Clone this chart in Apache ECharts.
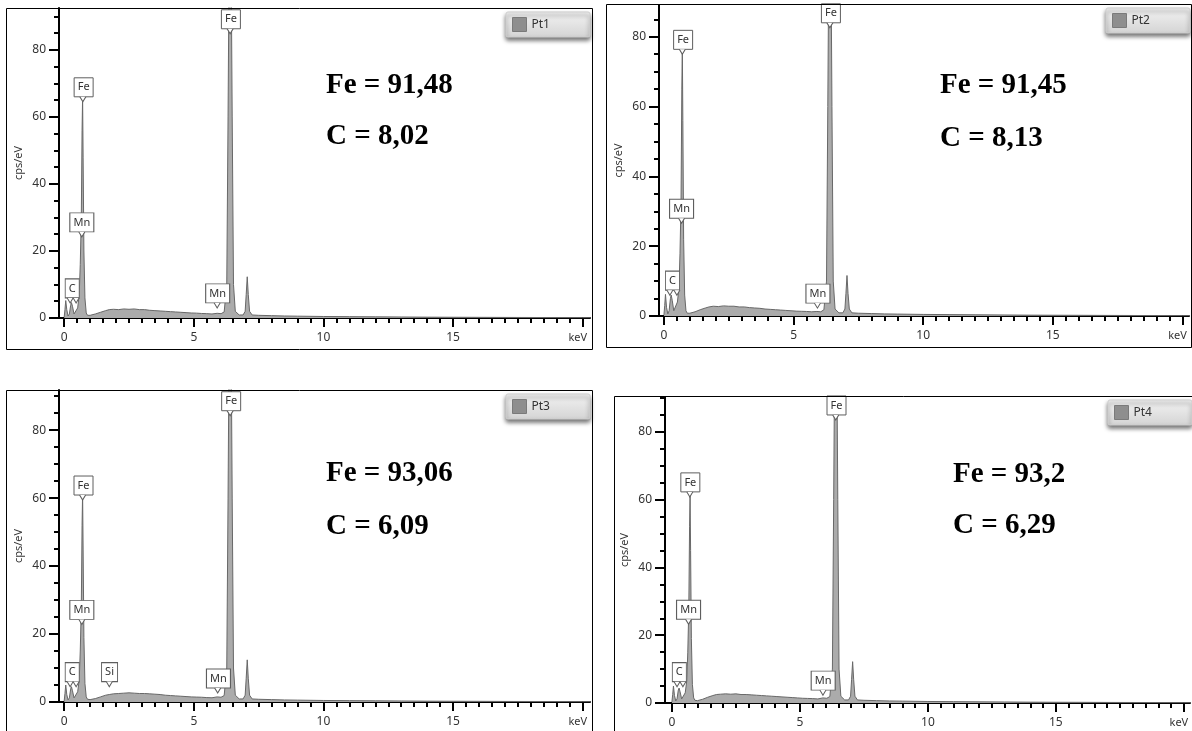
<!DOCTYPE html>
<html><head><meta charset="utf-8">
<script src="https://cdn.jsdelivr.net/npm/echarts@6/dist/echarts.min.js"></script>
<style>html,body{margin:0;padding:0;background:#fff}#c{width:1192px;height:731px}</style>
</head><body><div id="c"></div>
<script>
// ---------- DATA ----------
const energy = [0, 0.03, 0.06, 0.1, 0.15, 0.2, 0.25, 0.28, 0.32, 0.38,
  0.45, 0.52, 0.58, 0.62, 0.66, 0.69, 0.71, 0.73, 0.76, 0.8,
  0.85, 0.9, 1.0, 1.2, 1.4, 1.6, 1.74, 1.9, 2.1, 2.3,
  2.5, 2.7, 2.9, 3.1, 3.3, 3.5, 3.7, 3.9, 4.1, 4.3,
  4.5, 4.7, 4.9, 5.1, 5.3, 5.5, 5.7, 5.9, 6.05, 6.17,
  6.27, 6.32, 6.40, 6.48, 6.53, 6.6, 6.75, 6.9, 6.98, 7.02,
  7.06, 7.10, 7.15, 7.25, 7.5, 8.0, 8.5, 9.0, 10, 11,
  12, 13, 14, 15, 16, 17, 18, 19, 20, 20.3];

const pt1 = [0.3, 2.5, 5.2, 2.5, 0.6, 1.2, 3.8, 4.6, 3.5, 1.2,
  1.5, 3, 7, 16, 30, 56, 66, 48, 20, 6,
  1.5, 0.8, 0.8, 1.2, 1.7, 2.2, 2.5, 2.6, 2.5, 2.7,
  2.6, 2.7, 2.5, 2.5, 2.3, 2.2, 2.1, 2.0, 1.9, 1.8,
  1.7, 1.6, 1.5, 1.45, 1.35, 1.3, 1.2, 1.4, 1.3, 1.8,
  10, 60, 150, 60, 10, 2, 0.9, 0.9, 2, 7,
  12.3, 7, 2, 0.9, 0.8, 0.7, 0.6, 0.55, 0.45, 0.4,
  0.35, 0.3, 0.25, 0.22, 0.2, 0.17, 0.15, 0.12, 0.1, 0.1];

const pt2 = [0.3, 3, 6.2, 2.5, 0.6, 1.5, 5, 6, 4.5, 1.5,
  2, 4, 8, 18, 33, 65, 77, 56, 22, 6,
  1.5, 0.8, 0.8, 1.2, 1.8, 2.3, 2.6, 2.8, 2.7, 2.9,
  2.8, 2.8, 2.6, 2.6, 2.4, 2.3, 2.2, 2.0, 1.9, 1.8,
  1.7, 1.6, 1.5, 1.4, 1.35, 1.3, 1.2, 1.3, 1.2, 1.8,
  10, 60, 150, 60, 10, 2, 0.9, 0.9, 2, 6.5,
  11.6, 6.5, 2, 0.9, 0.8, 0.7, 0.6, 0.55, 0.45, 0.4,
  0.35, 0.3, 0.25, 0.22, 0.2, 0.17, 0.15, 0.12, 0.1, 0.1];

const pt3 = [0.3, 2.5, 5, 2.2, 0.6, 1.2, 3.8, 4.5, 3.3, 1.2,
  1.5, 3, 6.5, 15, 28, 52, 61.5, 45, 19, 5.5,
  1.5, 0.8, 0.7, 1.0, 1.5, 2.0, 2.2, 2.4, 2.5, 2.6,
  2.7, 2.6, 2.5, 2.5, 2.4, 2.3, 2.2, 2.0, 1.9, 1.8,
  1.7, 1.6, 1.5, 1.45, 1.4, 1.3, 1.25, 1.5, 1.4, 1.9,
  10, 60, 150, 60, 10, 2, 0.9, 0.9, 2, 7,
  12.4, 7, 2, 0.9, 0.8, 0.7, 0.6, 0.55, 0.45, 0.4,
  0.35, 0.3, 0.25, 0.22, 0.2, 0.17, 0.15, 0.12, 0.1, 0.1];

const pt4 = [0.3, 2.5, 5, 2.2, 0.6, 1.2, 3.8, 4.4, 3.3, 1.2,
  1.5, 3, 6.5, 15, 28, 52, 61.3, 45, 19, 5.5,
  1.5, 0.8, 0.7, 1.1, 1.7, 2.2, 2.5, 2.6, 2.7, 2.6,
  2.7, 2.5, 2.5, 2.4, 2.3, 2.2, 2.1, 2.0, 1.9, 1.8,
  1.7, 1.6, 1.5, 1.4, 1.35, 1.3, 1.2, 1.5, 1.4, 1.9,
  10, 60, 150, 60, 10, 2, 0.9, 0.9, 2, 7,
  12.2, 7, 2, 0.9, 0.8, 0.7, 0.6, 0.55, 0.45, 0.4,
  0.35, 0.3, 0.25, 0.22, 0.2, 0.17, 0.15, 0.12, 0.1, 0.1];

const seriesNames = ['Pt1', 'Pt2', 'Pt3', 'Pt4'];
const feTexts = ['Fe = 91,48', 'Fe = 91,45', 'Fe = 93,06', 'Fe = 93,2'];
const cTexts = ['C = 8,02', 'C = 8,13', 'C = 6,09', 'C = 6,29'];

// peak labels: [element, box-centre keV, box-bottom cps/eV, pointer keV list]
const peaks1 = [['Fe', 6.43, 86.3, [6.40]], ['Fe', 0.75, 66, [0.72]], ['Mn', 0.68, 25.7, [0.68]], ['C', 0.31, 6, [0.23, 0.46]], ['Mn', 5.92, 4.5, [5.90]]];
const peaks2 = [['Fe', 6.44, 84, [6.40]], ['Fe', 0.74, 76.4, [0.71]], ['Mn', 0.68, 28, [0.68]], ['C', 0.33, 7.4, [0.23, 0.5]], ['Mn', 5.94, 3.7, [5.92]]];
const peaks3 = [['Fe', 6.44, 85.7, [6.40]], ['Fe', 0.745, 60.9, [0.71]], ['Mn', 0.68, 24.3, [0.68]], ['C', 0.31, 6, [0.23, 0.46]], ['Si', 1.75, 6.0, [1.74]], ['Mn', 5.95, 4.1, [5.92]]];
const peaks4 = [['Fe', 6.43, 85, [6.40]], ['Fe', 0.72, 62.3, [0.70]], ['Mn', 0.65, 24.7, [0.65]], ['C', 0.29, 6.3, [0.2, 0.43]], ['Mn', 5.91, 3.8, [5.90]]];

const xLabelTicks = [0, 5, 10, 15, 20];
const xMinorTicks = [0.5, 1, 1.5, 2, 2.5, 3, 3.5, 4, 4.5, 5.5, 6, 6.5, 7, 7.5, 8, 8.5, 9, 9.5,
  10.5, 11, 11.5, 12, 12.5, 13, 13.5, 14, 14.5, 15.5, 16, 16.5, 17, 17.5, 18, 18.5, 19, 19.5];
const yLabelTicks = [0, 20, 40, 60, 80];
const yMinorTicks = [5, 10, 15, 25, 30, 35, 45, 50, 55, 65, 70, 75, 85, 90];

// ---------- LAYOUT ----------
const counts = [pt1, pt2, pt3, pt4];
const peaks = [peaks1, peaks2, peaks3, peaks4];
const panels = [
  { grid: { left: 59, top: 8, width: 531, height: 310 }, xMin: -0.2, xMax: 20.28, yMax: 92.5, frame: [6.5, 8.5, 586, 341], legend: [506, 12], tx: 326, ty: [86, 137] },
  { grid: { left: 659, top: 5, width: 530, height: 311 }, xMin: -0.19, xMax: 20.25, yMax: 89.1, frame: [606.5, 4.5, 585, 343], legend: [1106, 8], tx: 940, ty: [86, 139] },
  { grid: { left: 59, top: 390, width: 531, height: 312 }, xMin: -0.2, xMax: 20.28, yMax: 91.8, frame: [6.5, 390.5, 586, 360], legend: [506, 394], tx: 326, ty: [474, 527] },
  { grid: { left: 665, top: 397, width: 525, height: 306 }, xMin: -0.27, xMax: 20.24, yMax: 90.3, frame: [614.5, 396.5, 590, 360], legend: [1108, 400], tx: 953, ty: [475, 526] }
];
const FONT = '"Noto Sans", "Open Sans", sans-serif';
const boxW = { Fe: 19, Mn: 24, C: 14, Si: 16 };
const BOX_H = 19;
const calloutStyle = { color: '#ffffff', borderColor: '#5e5e5e', borderWidth: 1 };

function markData(list) {
  const out = [];
  list.forEach(([name, e, v, tips]) => {
    out.push({
      coord: [e, v], symbol: 'path://M0,0H10V10H0Z', symbolKeepAspect: false,
      symbolSize: [boxW[name], BOX_H], symbolOffset: [0, -BOX_H / 2],
      itemStyle: calloutStyle,
      label: { show: true, position: 'inside', formatter: name, color: '#333', fontSize: 11, fontFamily: FONT }
    });
    tips.forEach(t => out.push({
      coord: [t, v], symbol: 'path://M0,0L3,5L6,0', symbolKeepAspect: false,
      symbolSize: [6, 5], symbolOffset: [0, 2.5],
      itemStyle: calloutStyle, label: { show: false }
    }));
  });
  return out;
}

const axisLabelStyle = { fontSize: 12, color: '#333', fontFamily: FONT };

const option = {
  animation: false,
  backgroundColor: '#ffffff',
  grid: panels.map(p => Object.assign({ containLabel: false }, p.grid)),
  xAxis: panels.flatMap((p, i) => [
    {
      type: 'value', gridIndex: i, position: 'bottom', min: p.xMin, max: p.xMax,
      axisLine: { show: true, onZero: false, lineStyle: { color: '#000', width: 2 } },
      axisTick: { show: true, customValues: xLabelTicks, length: 9, lineStyle: { color: '#000', width: 2 } },
      axisLabel: Object.assign({
        show: true, customValues: xLabelTicks, margin: 14,
        formatter: v => v === 20 ? '{k|keV}' : String(v),
        rich: { k: { padding: [0, 10, 0, 0], fontSize: 11, color: '#333', fontFamily: FONT } }
      }, axisLabelStyle),
      splitLine: { show: false }
    },
    {
      type: 'value', gridIndex: i, position: 'bottom', min: p.xMin, max: p.xMax,
      axisLine: { show: false, onZero: false },
      axisTick: { show: true, customValues: xMinorTicks, length: 5, lineStyle: { color: '#000', width: 2 } },
      axisLabel: { show: false }, splitLine: { show: false }
    }
  ]),
  yAxis: panels.flatMap((p, i) => [
    {
      type: 'value', gridIndex: i, position: 'left', min: 0, max: p.yMax,
      name: 'cps/eV', nameLocation: 'middle', nameGap: 35,
      nameTextStyle: { fontSize: 11, color: '#333', fontFamily: FONT },
      axisLine: { show: true, onZero: false, lineStyle: { color: '#000', width: 2 } },
      axisTick: { show: true, customValues: yLabelTicks, length: 10, lineStyle: { color: '#000', width: 2 } },
      axisLabel: Object.assign({ show: true, customValues: yLabelTicks, margin: 13 }, axisLabelStyle),
      splitLine: { show: false }
    },
    {
      type: 'value', gridIndex: i, position: 'left', min: 0, max: p.yMax,
      axisLine: { show: false, onZero: false },
      axisTick: { show: true, customValues: yMinorTicks, length: 5, lineStyle: { color: '#000', width: 2 } },
      axisLabel: { show: false }, splitLine: { show: false }
    }
  ]),
  legend: panels.map((p, i) => ({
    data: [seriesNames[i]], left: p.legend[0], top: p.legend[1],
    icon: 'rect', itemWidth: 14, itemHeight: 14, selectedMode: false,
    padding: [5, 40, 5, 6],
    backgroundColor: new echarts.graphic.LinearGradient(0, 0, 0, 1, [
      { offset: 0, color: '#f3f3f3' }, { offset: 1, color: '#d4d4d4' }]),
    borderColor: '#cfcfcf', borderWidth: 1, borderRadius: 2,
    shadowBlur: 4, shadowColor: 'rgba(0,0,0,0.55)', shadowOffsetY: 3,
    textStyle: { fontSize: 12, color: '#333', fontFamily: FONT },
    itemStyle: { color: '#8e8e8e', borderColor: '#7a7a7a', borderWidth: 1 }
  })),
  series: panels.map((p, i) => ({
    type: 'line', name: seriesNames[i], xAxisIndex: i * 2, yAxisIndex: i * 2,
    data: energy.map((e, k) => [e, counts[i][k]]),
    showSymbol: false, symbol: 'none', clip: true, smooth: false,
    itemStyle: { color: '#8e8e8e' },
    lineStyle: { color: '#686868', width: 1 },
    areaStyle: { color: '#ababab', opacity: 1 },
    markPoint: { silent: true, data: markData(peaks[i]) }
  })),
  graphic: [
    ...panels.map(p => ({
      type: 'rect', silent: true, z: 100,
      shape: { x: p.frame[0], y: p.frame[1], width: p.frame[2], height: p.frame[3] },
      style: { fill: 'none', stroke: '#000', lineWidth: 1 }
    })),
    ...panels.flatMap((p, i) => [feTexts[i], cTexts[i]].map((t, j) => ({
      type: 'text', silent: true, z: 100, x: p.tx, y: p.ty[j],
      style: { text: t, fill: '#000', font: 'bold 29px "Liberation Serif", "Times New Roman", serif', verticalAlign: 'middle', align: 'left' }
    })))
  ]
};

const chart = echarts.init(document.getElementById('c'), null, { renderer: 'canvas' });
chart.setOption(option);
</script>
</body></html>
